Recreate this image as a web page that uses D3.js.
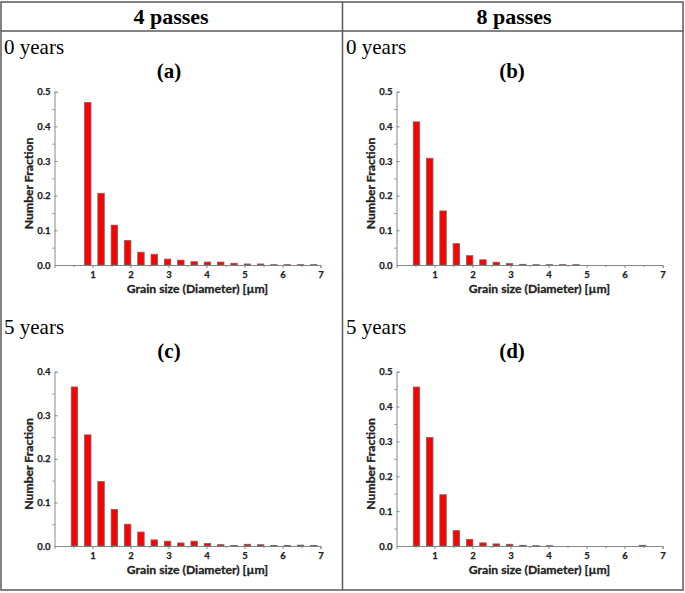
<!DOCTYPE html>
<html>
<head>
<meta charset="utf-8">
<script src="https://cdn.jsdelivr.net/npm/d3@7"></script>
<style>
  html, body { margin: 0; padding: 0; background: #fff; }
  .tick text { font-family: Lato, "Open Sans", sans-serif; font-weight: 700; fill: #222; stroke: #222; stroke-width: 0.25; }
</style>
</head>
<body>
<svg id="chart" width="685" height="593"></svg>
<script>
// bin centres (grain diameter, µm)
const grainSize = [0.525, 0.875, 1.225, 1.575, 1.925, 2.275, 2.625, 2.975, 3.325, 3.675,
                   4.025, 4.375, 4.725, 5.075, 5.425, 5.775, 6.125, 6.475, 6.825];

// number fraction per bin
const passes4Years0 = [0, 0.469, 0.207, 0.115, 0.071, 0.037, 0.031, 0.017, 0.014, 0.0095,
                       0.0085, 0.0085, 0.005, 0.003, 0.003, 0.001, 0.001, 0.001, 0.001];
const passes8Years0 = [0.413, 0.308, 0.156, 0.0615, 0.027, 0.015, 0.008, 0.004, 0.002, 0.001,
                       0.001, 0.001, 0.001, 0, 0, 0, 0, 0, 0];
const passes4Years5 = [0.365, 0.255, 0.148, 0.084, 0.050, 0.032, 0.014, 0.011, 0.007, 0.011,
                       0.006, 0.003, 0.001, 0.004, 0.003, 0.001, 0.001, 0.002, 0.001];
const passes8Years5 = [0.456, 0.311, 0.147, 0.044, 0.019, 0.009, 0.006, 0.005, 0.002, 0.001,
                       0.001, 0, 0, 0, 0, 0, 0, 0.002, 0];

const columnTitles = ["4 passes", "8 passes"];
const rowTitles = ["0 years", "5 years"];
const panelTags = ["(a)", "(b)", "(c)", "(d)"];
const xTicks = [1, 2, 3, 4, 5, 6, 7];

const svg = d3.select("#chart");
const serif = "'Liberation Serif', 'Times New Roman', serif";
const sans = "Lato, 'Open Sans', sans-serif";
const lineColor = "#5a5a5a";

// table frame
const frame = svg.append("g").attr("stroke", lineColor).attr("stroke-width", 1.5).attr("fill", "none");
frame.append("rect").attr("x", 1).attr("y", 2).attr("width", 682).attr("height", 588);
frame.append("line").attr("x1", 1).attr("x2", 683).attr("y1", 31).attr("y2", 31);
frame.append("line").attr("x1", 342.5).attr("x2", 342.5).attr("y1", 2).attr("y2", 590);

// header + row labels
const colCenter = [171, 514];
columnTitles.forEach((t, i) => {
  svg.append("text").attr("x", colCenter[i]).attr("y", 24)
    .attr("text-anchor", "middle").attr("font-family", serif)
    .attr("font-weight", 700).attr("font-size", 22).text(t);
});

const panels = [
  { values: passes4Years0, col: 0, row: 0, yMax: 0.5 },
  { values: passes8Years0, col: 1, row: 0, yMax: 0.5 },
  { values: passes4Years5, col: 0, row: 1, yMax: 0.4 },
  { values: passes8Years5, col: 1, row: 1, yMax: 0.5 }
];

const colX0 = [54.5, 396.5];       // pixel of x = 0
const rowTop = [91.7, 371.7];      // pixel of y = yMax
const rowBottom = [265, 546];      // pixel of y = 0
const rowLabelY = [54, 334];
const tagY = [78, 358];

panels.forEach((p, i) => {
  const g = svg.append("g");
  const x0 = colX0[p.col];
  const left = p.col * 342;

  g.append("text").attr("x", left + 4).attr("y", rowLabelY[p.row])
    .attr("font-family", serif).attr("font-size", 21).text(rowTitles[p.row]);
  g.append("text").attr("x", colCenter[p.col] - 2).attr("y", tagY[p.row])
    .attr("text-anchor", "middle").attr("font-family", serif)
    .attr("font-weight", 700).attr("font-size", 21).text(panelTags[i]);

  const xScale = d3.scaleLinear().domain([0, 7]).range([x0, x0 + 266]);
  const yScale = d3.scaleLinear().domain([0, p.yMax]).range([rowBottom[p.row], rowTop[p.row]]);

  // minor ticks
  g.append("g").attr("transform", "translate(0," + rowBottom[p.row] + ")")
    .call(d3.axisBottom(xScale).tickValues(d3.range(0.5, 7, 1)).tickSize(2).tickFormat(""))
    .call(a => a.select(".domain").remove());
  g.append("g").attr("transform", "translate(" + x0 + ",0)")
    .call(d3.axisLeft(yScale).tickValues(d3.range(0.05, p.yMax, 0.1)).tickSize(2).tickFormat(""))
    .call(a => a.select(".domain").remove());

  const xAxis = g.append("g").attr("transform", "translate(0," + rowBottom[p.row] + ")")
    .call(d3.axisBottom(xScale).tickValues(xTicks).tickSize(3).tickPadding(3).tickFormat(d3.format("d")));
  const yAxis = g.append("g").attr("transform", "translate(" + x0 + ",0)")
    .call(d3.axisLeft(yScale).ticks(Math.round(p.yMax * 10)).tickSize(-3).tickPadding(4).tickFormat(d3.format(".1f")));

  g.selectAll(".tick line").attr("stroke", "#888");
  g.selectAll(".domain").attr("stroke", "#888").attr("stroke-width", 1);
  xAxis.selectAll("text").attr("font-size", 9.5);
  yAxis.selectAll("text").attr("font-size", 9.5);

  // bars
  const bw = xScale(0.17) - xScale(0);
  g.append("g").selectAll("rect")
    .data(grainSize.map((s, k) => ({ size: s, value: p.values[k] })).filter(d => d.value > 0))
    .join("rect")
      .attr("x", d => xScale(d.size) - bw / 2)
      .attr("y", d => yScale(d.value))
      .attr("width", bw)
      .attr("height", d => yScale(0) - yScale(d.value))
      .attr("fill", "#ff0000")
      .attr("stroke", "#6a6a6a")
      .attr("stroke-width", 0.8);

  // axis titles
  g.append("text").attr("x", x0 + 143).attr("y", rowBottom[p.row] + 28)
    .attr("text-anchor", "middle").attr("font-family", sans).attr("font-weight", 700)
    .attr("font-size", 12.2).attr("fill", "#222").attr("stroke", "#222").attr("stroke-width", 0.3)
    .text("Grain size (Diameter) [µm]");
  const ty = (rowTop[p.row] + rowBottom[p.row]) / 2 + 5;
  g.append("text").attr("transform", "translate(" + (x0 - 22) + "," + ty + ") rotate(-90)")
    .attr("text-anchor", "middle").attr("font-family", sans).attr("font-weight", 700)
    .attr("font-size", 12.2).attr("fill", "#222").attr("stroke", "#222").attr("stroke-width", 0.3)
    .text("Number Fraction");
});
</script>
</body>
</html>
